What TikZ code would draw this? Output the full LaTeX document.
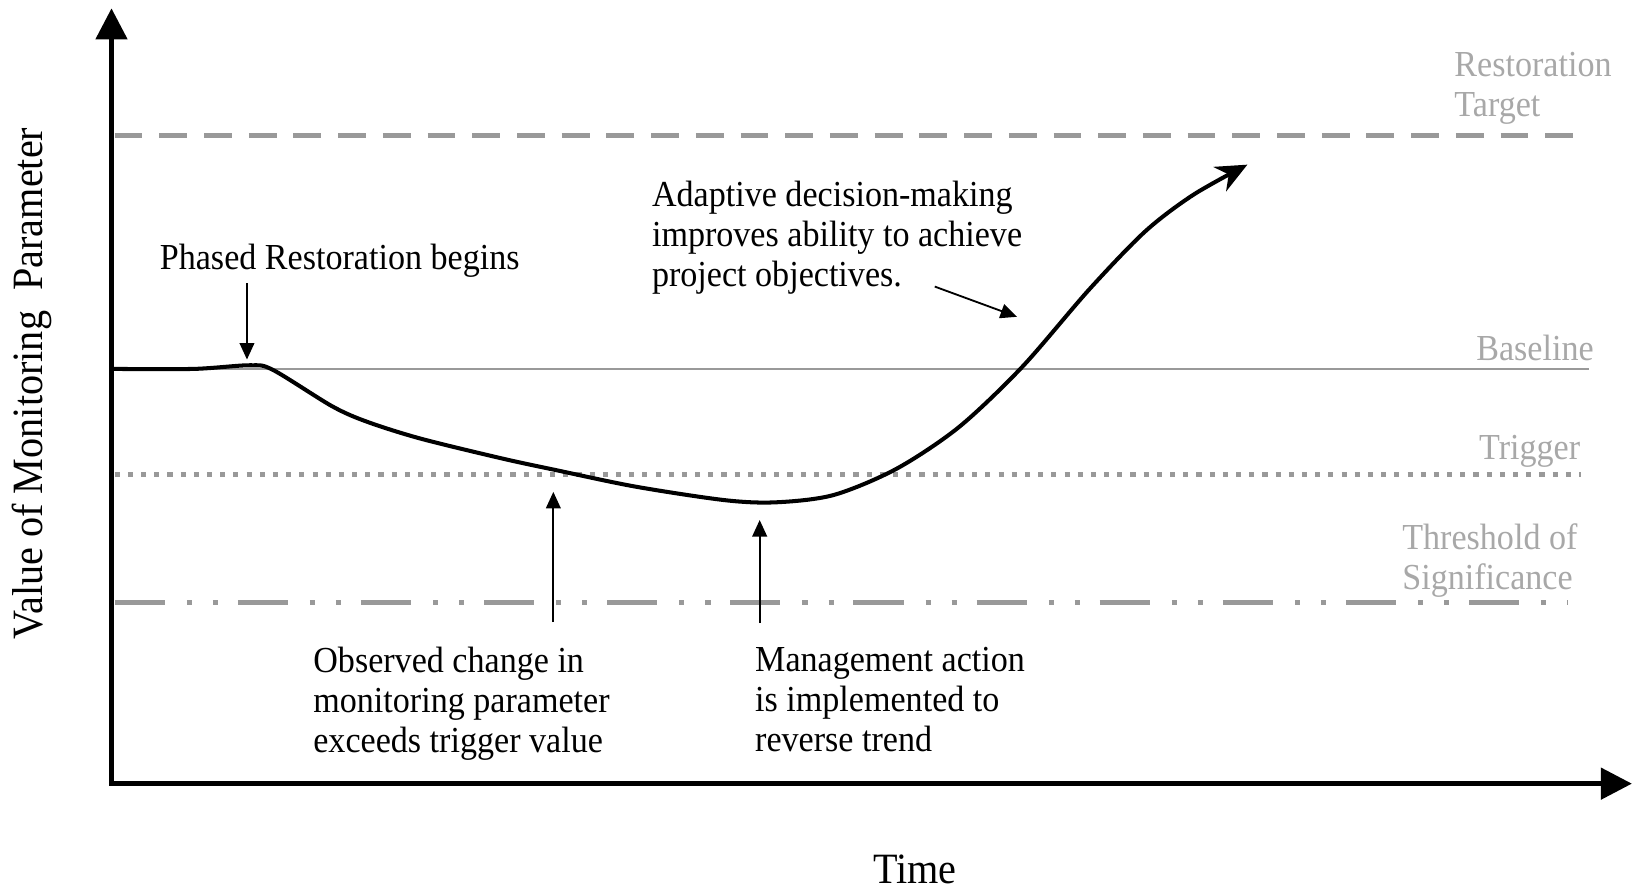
\documentclass[tikz,border=0pt]{standalone}
\usepackage{fontspec}
\setmainfont{Liberation Serif}[FakeStretch=0.93]
\usetikzlibrary{arrows.meta}
\definecolor{linegray}{HTML}{999999}
\definecolor{textgray}{HTML}{A8A8A8}
\begin{document}
\begin{tikzpicture}[x=0.01cm,y=-0.01cm,
    axis/.style={line width=1.3pt,{Triangle[length=8.5pt,width=8.5pt]}-{Triangle[length=8.5pt,width=8.5pt]}},
    pointer/.style={line width=0.5pt,-{Triangle[length=4.5pt,width=4pt]}},
    txt/.style={inner sep=0pt,align=left,font=\fontsize{10}{10.95}\selectfont},
    grey/.style={txt,text=textgray},
    big/.style={inner sep=0pt,font=\fontsize{11.8}{13}\selectfont}]
        \useasboundingbox (0,0) rectangle (1568,857);
        \draw[linegray,line width=1.6pt,dash pattern=on 7.6pt off 4.6pt] (110,130) -- (1525,130);
        \draw[linegray,line width=0.6pt] (110,354) -- (1525,354);
        \draw[linegray,line width=1.4pt,dash pattern=on 1.4pt off 2.2pt] (110,455) -- (1517,455);
        \draw[linegray,line width=1.3pt,dash pattern=on 13.7pt off 6pt on 1.4pt off 5.7pt on 1.4pt off 5.4pt] (110,578) -- (1505,578);
        \coordinate (o) at (107,752);
        \coordinate (ytip) at (107,8);
        \coordinate (xtip) at (1566,752);
        \draw[axis] (ytip) -- (o) -- (xtip);
        \draw[line width=1.1pt,-{Stealth[length=8.5pt,width=7.5pt]}] plot[smooth,tension=0.5] coordinates {
            (107,354) (186,354) (240,350.5) (262,355) (319,390) (353,405) (404,421) (482,440)
            (533,451) (610,467) (696,480) (745,482) (800,475) (860,450) (920,410) (981,352)
            (1045,278) (1099,222) (1145,187) (1197,158)};
        \node[grey,anchor=north west] (tgt) at (1395,49) {Restoration\\Target};
        \node[grey,anchor=base east] (base) at (1530,346) {Baseline};
        \node[grey,anchor=base east] (trig) at (1517,441) {Trigger};
        \node[grey,anchor=north west] (thr) at (1345,502) {Threshold of\\Significance};
        \node[txt,anchor=base] (ph) at (326,259) {Phased Restoration begins};
        \node[txt,anchor=north west] (ad) at (625,173) {Adaptive decision-making\\improves ability to achieve\\project objectives.};
        \node[txt,anchor=north west] (obs) at (300,620) {Observed change in\\monitoring parameter\\exceeds trigger value};
        \node[txt,anchor=north west] (mg) at (724,620) {Management action\\is implemented to\\reverse trend};
        \node[big,anchor=base] (time) at (878,848) {Time};
        \node[big,anchor=base,rotate=90] (val) at (41,368) {Value of Monitoring\ \ Parameter};
        \coordinate (ph1) at (237,272);
        \coordinate (ph2) at (237,345);
        \coordinate (ad1) at (897,275);
        \coordinate (ad2) at (976,304);
        \coordinate (obs1) at (531,597);
        \coordinate (obs2) at (531,472);
        \coordinate (mg1) at (729,598);
        \coordinate (mg2) at (729,499);
        \draw[pointer] (ph1) -- (ph2);
        \draw[pointer] (ad1) -- (ad2);
        \draw[pointer] (obs1) -- (obs2);
        \draw[pointer] (mg1) -- (mg2);
    \end{tikzpicture}
\end{document}
